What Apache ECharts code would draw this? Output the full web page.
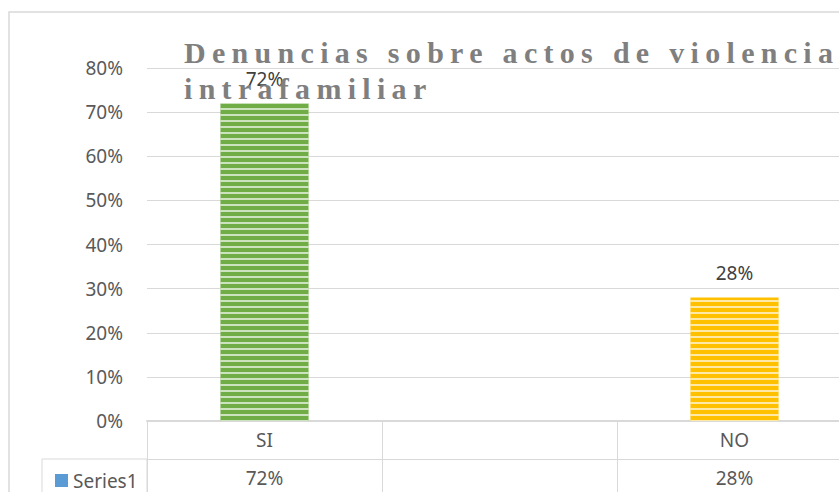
<!DOCTYPE html>
<html>
<head>
<meta charset="utf-8">
<script src="https://cdn.jsdelivr.net/npm/echarts@6/dist/echarts.min.js"></script>
<style>
  html, body { margin: 0; padding: 0; background: #fff; }
  #main { width: 839px; height: 492px; }
</style>
</head>
<body>
<div id="main"></div>
<script>
// datos del gráfico
var titulo = ['Denuncias sobre actos de violencia', 'intrafamiliar'];
var categorias = ['SI', '', 'NO'];
var valores = [72, null, 28];
var colores = ['#70AD47', null, '#FFC000'];
var serieNombre = 'Series1';

var myChart = echarts.init(document.getElementById('main'), null, { renderer: 'svg' });

var FUENTE = 'Noto Sans';
var GRIS = '#d9d9d9';

// rayas horizontales claras sobre cada barra
function rayas() {
	return {
		symbol: 'rect',
		symbolSize: 1,
		color: 'rgba(255,255,255,0.65)',
		dashArrayX: [1, 0],
		dashArrayY: [2, 4],
		rotation: 0
	};
}

var datos = valores.map(function(v, i) {
	if (v == null) return '-';
	return {
		value: v,
		itemStyle: { color: colores[i], decal: rayas() }
	};
});

var option = {
	animation: false,
	title: {
		text: titulo.join('\n'),
		left: 184,
		top: 34,
		padding: 0,
		textStyle: {
			fontFamily: 'Liberation Serif',
			fontWeight: 'bold',
			fontSize: 30,
			lineHeight: 36.5,
			color: '#7f7f7f'
		}
	},
	legend: {
		left: 50,
		top: 466,
		itemWidth: 13,
		itemHeight: 13,
		icon: 'rect',
		data: [serieNombre],
		textStyle: { fontFamily: FUENTE, fontSize: 19, color: '#595959' }
	},
	// la tabla sigue más allá del borde derecho
	grid: { left: 147, top: 68, width: 705, height: 353, outerBoundsMode: 'none' },
	xAxis: [{
		type: 'category',
		data: categorias,
		axisLine: { lineStyle: { color: GRIS, width: 2 } },
		axisTick: { show: true, length: 38, interval: 0, lineStyle: { color: GRIS } },
		axisLabel: { margin: 9, interval: 0, fontFamily: FUENTE, fontSize: 19, color: '#595959' }
	}, {
		type: 'category',
		position: 'bottom',
		offset: 38,
		data: valores.map(function(v) { return v == null ? '' : v + '%'; }),
		axisLine: { show: true, lineStyle: { color: GRIS, width: 1 } },
		axisTick: { show: true, length: 40, interval: 0, lineStyle: { color: GRIS } },
		axisLabel: { margin: 9, interval: 0, fontFamily: FUENTE, fontSize: 19, color: '#595959' }
	}],
	yAxis: {
		type: 'value',
		min: 0,
		max: 80,
		interval: 10,
		axisLine: { show: false },
		axisTick: { show: false },
		axisLabel: { formatter: '{value}%', margin: 24, fontFamily: FUENTE, fontSize: 19, color: '#595959' },
		splitLine: { lineStyle: { color: GRIS, width: 1 } }
	},
	graphic: [{
		// borde del área del gráfico
		type: 'rect',
		z: -10,
		shape: { x: 9, y: 12, width: 1000, height: 1000 },
		style: { fill: 'none', stroke: GRIS, lineWidth: 1.5 }
	}, {
		// celda de la leyenda en la tabla de datos
		type: 'rect',
		z: -5,
		shape: { x: 42, y: 459, width: 105, height: 60 },
		style: { fill: 'none', stroke: GRIS, lineWidth: 1 }
	}],
	series: [{
		name: serieNombre,
		type: 'bar',
		xAxisIndex: 0,
		color: '#5B9BD5',
		barWidth: '37.5%',
		data: datos,
		label: {
			show: true,
			position: 'top',
			distance: 15,
			formatter: '{c}%',
			fontFamily: FUENTE,
			fontSize: 19,
			color: '#404040'
		}
	}]
};

myChart.setOption(option);

// espaciado entre letras del título
function espaciar() {
	var textos = document.querySelectorAll('#main text');
	for (var i = 0; i < textos.length; i++) {
		if (titulo.indexOf(textos[i].textContent) >= 0) {
			textos[i].setAttribute('letter-spacing', '6.3');
		}
	}
}
espaciar();
myChart.on('finished', espaciar);
setTimeout(espaciar, 50);
</script>
</body>
</html>
